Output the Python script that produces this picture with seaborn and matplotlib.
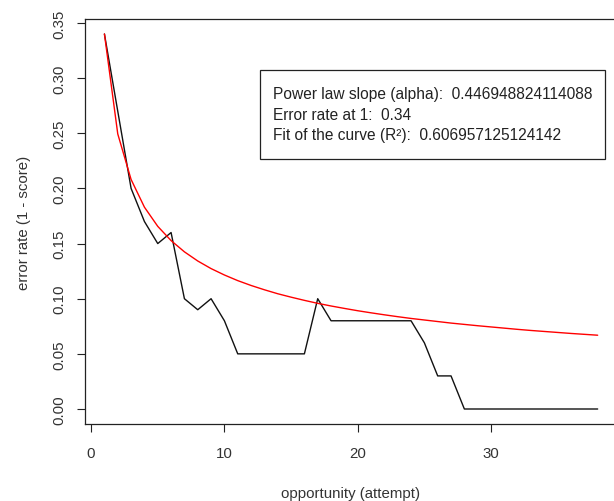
import matplotlib
matplotlib.use("Agg")
import matplotlib.pyplot as plt
import seaborn as sns
import pandas as pd
from matplotlib.patches import Rectangle

# ---- data ----
attempts = list(range(1, 39))
error_rate = [0.34, 0.27, 0.20, 0.17, 0.15, 0.16, 0.10, 0.09, 0.10, 0.08,
              0.05, 0.05, 0.05, 0.05, 0.05, 0.05, 0.10, 0.08, 0.08, 0.08,
              0.08, 0.08, 0.08, 0.08, 0.06, 0.03, 0.03, 0.00, 0.00, 0.00,
              0.00, 0.00, 0.00, 0.00, 0.00, 0.00, 0.00, 0.00]
fitted_rate = [0.3400, 0.2494, 0.2081, 0.1830, 0.1656, 0.1527, 0.1425, 0.1342,
               0.1273, 0.1215, 0.1164, 0.1120, 0.1081, 0.1045, 0.1014, 0.0985,
               0.0958, 0.0934, 0.0912, 0.0891, 0.0872, 0.0854, 0.0837, 0.0821,
               0.0807, 0.0793, 0.0779, 0.0767, 0.0755, 0.0744, 0.0733, 0.0722,
               0.0712, 0.0703, 0.0694, 0.0685, 0.0677, 0.0669]
x_ticks = [0, 10, 20, 30]
y_ticks = [0.00, 0.05, 0.10, 0.15, 0.20, 0.25, 0.30, 0.35]
y_tick_labels = ["0.00", "0.05", "0.10", "0.15", "0.20", "0.25", "0.30", "0.35"]
info_lines = ["Power law slope (alpha):  0.446948824114088",
              "Error rate at 1:  0.34",
              "Fit of the curve (R\u00b2):  0.606957125124142"]
x_label = "opportunity (attempt)"
y_label = "error rate (1 - score)"

df = pd.DataFrame({"attempt": attempts, "error": error_rate, "fit": fitted_rate})

sns.set_style("white")
plt.rcParams["font.family"] = ["Liberation Sans", "DejaVu Sans"]

FS = 10.8
W, H = 614, 502
fig = plt.figure(figsize=(W / 100, H / 100), dpi=100)
left_px, right_px, top_px, bot_px = 84.7, 617.4, 20.0, 425.0
ax = fig.add_axes([left_px / W, 1 - bot_px / H, (right_px - left_px) / W, (bot_px - top_px) / H])

sns.lineplot(data=df, x="attempt", y="error", color="#111111", linewidth=1.0, ax=ax)
sns.lineplot(data=df, x="attempt", y="fit", color="#ff0000", linewidth=1.0, ax=ax)

ax.set_xlim(-0.48, 39.48)
ax.set_ylim(-0.0136, 0.3536)
ax.set_xticks(x_ticks)
ax.set_xticklabels([str(t) for t in x_ticks])
ax.set_yticks(y_ticks)
ax.set_yticklabels(y_tick_labels)

label_color = "#333333"
ax.tick_params(axis="both", which="major", direction="out", length=5.5, width=0.8,
               color="#222222", labelsize=FS, labelcolor=label_color)
ax.tick_params(axis="x", bottom=True, pad=10)
ax.tick_params(axis="y", left=True, labelrotation=90, pad=8)
for lab in ax.get_yticklabels():
    lab.set_va("center")

for sp in ax.spines.values():
    sp.set_visible(True)
    sp.set_color("#222222")
    sp.set_linewidth(0.9)

ax.set_xlabel(x_label, fontsize=FS, color=label_color, labelpad=19)
ax.set_ylabel(y_label, fontsize=FS, color=label_color, labelpad=15)

# info box
ax_w = right_px - left_px
ax_h = bot_px - top_px
bx0 = (260 - left_px) / ax_w
bx1 = (605 - left_px) / ax_w
by0 = 1 - (160 - top_px) / ax_h
by1 = 1 - (71 - top_px) / ax_h
ax.add_patch(Rectangle((bx0, by0), bx1 - bx0, by1 - by0, transform=ax.transAxes,
                       fill=False, edgecolor="#222222", linewidth=0.9))
tx = (273 - left_px) / ax_w
for i, line in enumerate(info_lines):
    ty = 1 - (94.5 + 20.5 * i - top_px) / ax_h
    ax.text(tx, ty, line, transform=ax.transAxes, fontsize=11.2, color="#222222",
            ha="left", va="center")

fig.savefig("out.png", dpi=100)
